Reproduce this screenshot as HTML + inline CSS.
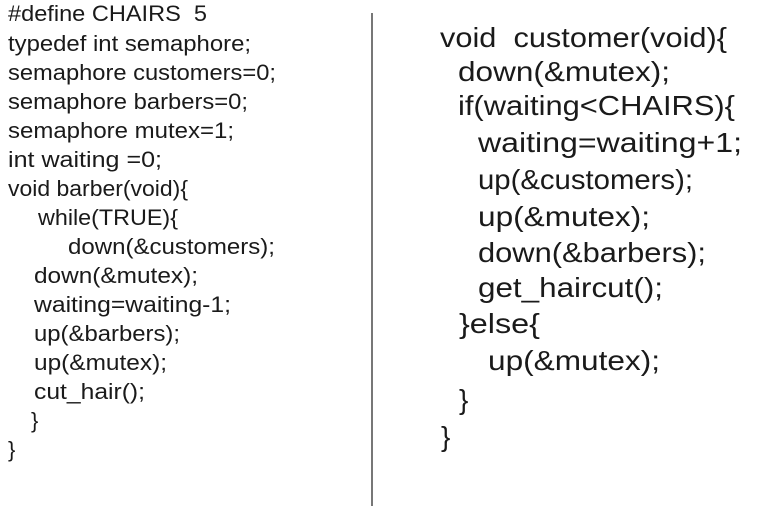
<!DOCTYPE html>
<html><head><meta charset="utf-8"><style>
html,body{margin:0;padding:0;background:#fff;}
svg{display:block;}
text{font-family:"Liberation Sans",sans-serif;fill:#1a1a1a;}
.l{font-size:22px;}
.r{font-size:28px;}
</style></head><body>
<svg width="760" height="510" xmlns="http://www.w3.org/2000/svg">
<line x1="372" y1="13" x2="372" y2="506" stroke="#777" stroke-width="2"/>
<g>
<text class="l" x="8" y="21" textLength="199" lengthAdjust="spacingAndGlyphs" xml:space="preserve">#define CHAIRS  5</text>
<text class="l" x="8" y="51" textLength="243" lengthAdjust="spacingAndGlyphs">typedef int semaphore;</text>
<text class="l" x="8" y="80" textLength="268" lengthAdjust="spacingAndGlyphs">semaphore customers=0;</text>
<text class="l" x="8" y="109" textLength="240" lengthAdjust="spacingAndGlyphs">semaphore barbers=0;</text>
<text class="l" x="8" y="138" textLength="226" lengthAdjust="spacingAndGlyphs">semaphore mutex=1;</text>
<text class="l" x="8" y="167" textLength="154" lengthAdjust="spacingAndGlyphs">int waiting =0;</text>
<text class="l" x="8" y="196" textLength="180" lengthAdjust="spacingAndGlyphs">void barber(void){</text>
<text class="l" x="38" y="225" textLength="140" lengthAdjust="spacingAndGlyphs">while(TRUE){</text>
<text class="l" x="68" y="254" textLength="207" lengthAdjust="spacingAndGlyphs">down(&amp;customers);</text>
<text class="l" x="34" y="283" textLength="164" lengthAdjust="spacingAndGlyphs">down(&amp;mutex);</text>
<text class="l" x="34" y="312" textLength="197" lengthAdjust="spacingAndGlyphs">waiting=waiting-1;</text>
<text class="l" x="34" y="341" textLength="146" lengthAdjust="spacingAndGlyphs">up(&amp;barbers);</text>
<text class="l" x="34" y="370" textLength="133" lengthAdjust="spacingAndGlyphs">up(&amp;mutex);</text>
<text class="l" x="34" y="399" textLength="111" lengthAdjust="spacingAndGlyphs">cut_hair();</text>
<text class="l" x="31" y="428">}</text>
<text class="l" x="8" y="457">}</text>
</g>
<g>
<text class="r" x="440" y="47" textLength="287" lengthAdjust="spacingAndGlyphs" xml:space="preserve">void  customer(void){</text>
<text class="r" x="458" y="81" textLength="212" lengthAdjust="spacingAndGlyphs">down(&amp;mutex);</text>
<text class="r" x="458" y="115" textLength="277" lengthAdjust="spacingAndGlyphs">if(waiting&lt;CHAIRS){</text>
<text class="r" x="478" y="152" textLength="264" lengthAdjust="spacingAndGlyphs">waiting=waiting+1;</text>
<text class="r" x="478" y="189" textLength="215" lengthAdjust="spacingAndGlyphs">up(&amp;customers);</text>
<text class="r" x="478" y="226" textLength="172" lengthAdjust="spacingAndGlyphs">up(&amp;mutex);</text>
<text class="r" x="478" y="262" textLength="228" lengthAdjust="spacingAndGlyphs">down(&amp;barbers);</text>
<text class="r" x="478" y="297" textLength="185" lengthAdjust="spacingAndGlyphs">get_haircut();</text>
<text class="r" x="459" y="333" textLength="81" lengthAdjust="spacingAndGlyphs">}else{</text>
<text class="r" x="488" y="370" textLength="172" lengthAdjust="spacingAndGlyphs">up(&amp;mutex);</text>
<text class="r" x="459" y="409">}</text>
<text class="r" x="441" y="446">}</text>
</g>
</svg>
</body></html>
